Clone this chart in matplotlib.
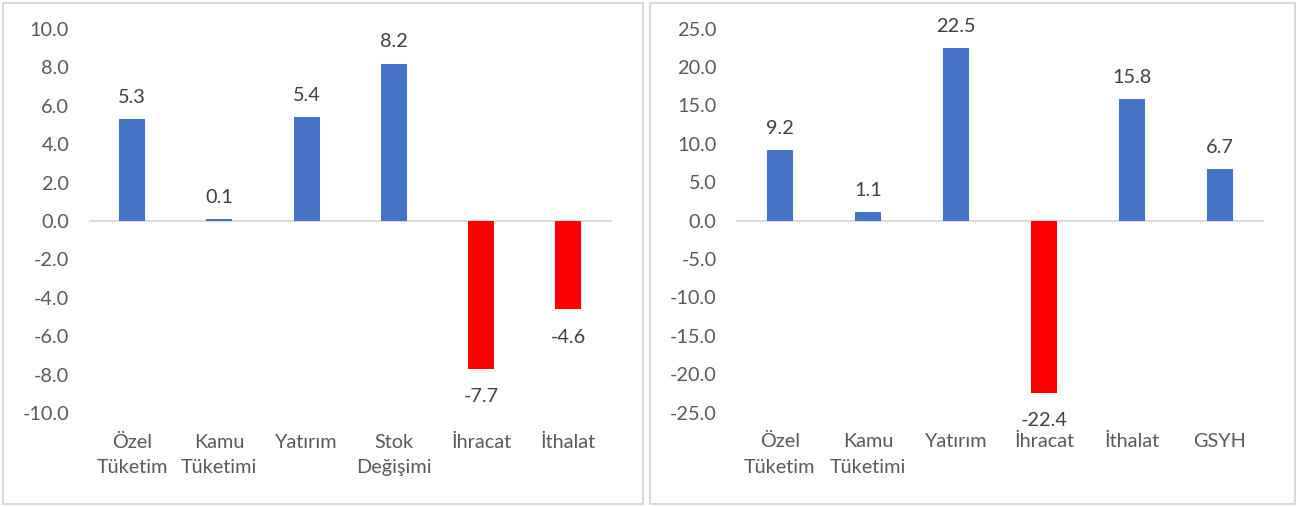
import matplotlib.pyplot as plt
from matplotlib.patches import Rectangle

plt.rcParams['font.family'] = ['Lato', 'DejaVu Sans']

left_cats = ["Özel\nTüketim", "Kamu\nTüketimi", "Yatırım", "Stok\nDeğişimi", "İhracat", "İthalat"]
left_vals = [5.3, 0.1, 5.4, 8.2, -7.7, -4.6]
left_ticks = [-10, -8, -6, -4, -2, 0, 2, 4, 6, 8, 10]

right_cats = ["Özel\nTüketim", "Kamu\nTüketimi", "Yatırım", "İhracat", "İthalat", "GSYH"]
right_vals = [9.2, 1.1, 22.5, -22.4, 15.8, 6.7]
right_ticks = [-25, -20, -15, -10, -5, 0, 5, 10, 15, 20, 25]

BLUE = "#4472C4"
RED = "#FF0000"
TXT = "#595959"
W, H = 1301, 507
FS = 14.3


def panel(fig, rect, cats, vals, ticks):
    ax = fig.add_axes(rect)
    x = range(len(cats))
    colors = [BLUE if v >= 0 else RED for v in vals]
    ax.bar(x, vals, width=0.30, color=colors, zorder=2)
    ax.axhline(0, color="#d9d9d9", lw=1.3, zorder=1)
    ax.set_xlim(-0.5, len(cats) - 0.5)
    ax.set_ylim(ticks[0], ticks[-1])
    ax.set_yticks(ticks)
    ax.set_yticklabels([f"{t:.1f}" for t in ticks])
    ax.set_xticks(list(x))
    ax.set_xticklabels(cats, linespacing=1.6)
    ax.tick_params(length=0, labelsize=FS, colors=TXT)
    ax.tick_params(axis="y", pad=14)
    ax.tick_params(axis="x", pad=15)
    for s in ax.spines.values():
        s.set_visible(False)
    for i, v in enumerate(vals):
        ax.annotate(f"{v:.1f}", (i, v), xytext=(0, 9.5 if v >= 0 else -14),
                    textcoords="offset points", ha="center",
                    va="bottom" if v >= 0 else "top", fontsize=FS, color="#404040")
    return ax


fig = plt.figure(figsize=(W / 100, H / 100), dpi=100)

fig.patches.append(Rectangle((3 / W, 3 / H), 640 / W, 501 / H, transform=fig.transFigure,
                             fill=False, edgecolor="#d9d9d9", lw=1.5))
fig.patches.append(Rectangle((650 / W, 3 / H), 645 / W, 501 / H, transform=fig.transFigure,
                             fill=False, edgecolor="#d9d9d9", lw=1.5))

panel(fig, [88.5 / W, (H - 413) / H, (612 - 88.5) / W, 384 / H], left_cats, left_vals, left_ticks)
panel(fig, [736 / W, (H - 412.5) / H, (1264 - 736) / W, 384 / H], right_cats, right_vals, right_ticks)

fig.savefig("out.png", dpi=100)
